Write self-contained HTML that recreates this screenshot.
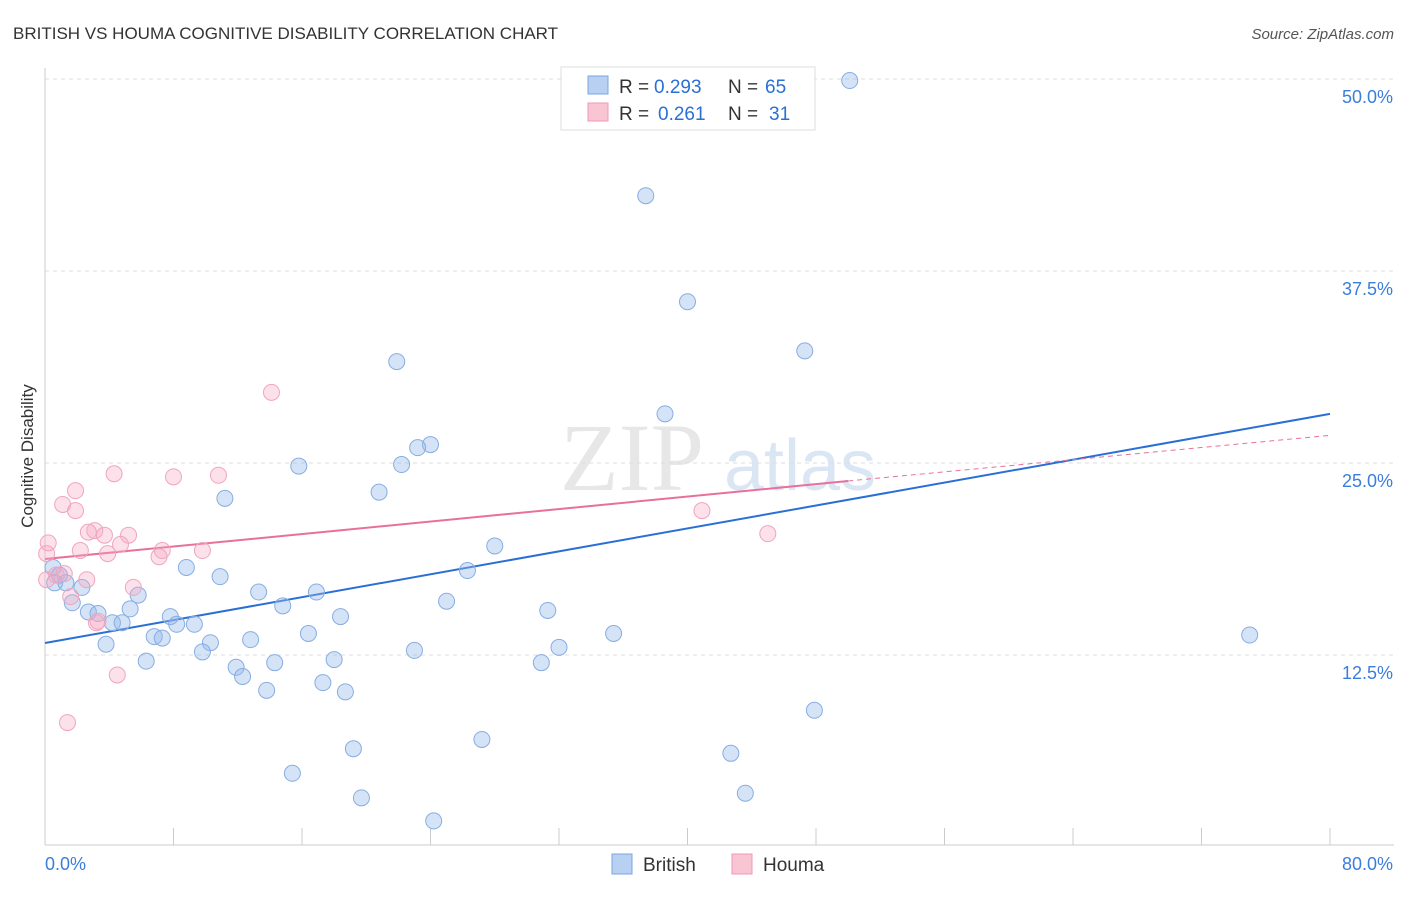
<!DOCTYPE html>
<html><head><meta charset="utf-8"><style>
body{margin:0;background:#fff;font-family:"Liberation Sans",sans-serif}
svg text{font-family:"Liberation Sans",sans-serif}
</style></head><body>
<svg id="c" width="1406" height="892">
<text x="13" y="39" font-size="17" fill="#333">BRITISH VS HOUMA COGNITIVE DISABILITY CORRELATION CHART</text>
<text x="1394" y="39" font-size="15" fill="#555" text-anchor="end" font-style="italic">Source: ZipAtlas.com</text>
<text x="33" y="456" font-size="17" fill="#333" text-anchor="middle" transform="rotate(-90 33 456)">Cognitive Disability</text>
<g opacity="0.35">
<text x="632" y="490" font-size="96" fill="#bbb" text-anchor="middle" style="font-family:'Liberation Serif',serif">ZIP</text>
<text x="800" y="490" font-size="72" fill="#9bb8e0" text-anchor="middle">atlas</text>
</g>
<g id="grid"></g><g id="axes"></g><g id="lines"></g><g id="pts"></g>
<g>
<rect x="561" y="67" width="254" height="63" fill="#fff" stroke="#ddd"/>
<rect x="588" y="76" width="20" height="18" fill="#b8d0f2" stroke="#7aa6e0"/>
<rect x="588" y="103" width="20" height="18" fill="#f9c4d4" stroke="#ef9ab5"/>
<text x="619" y="93" font-size="19" fill="#333">R =</text>
<text x="654" y="93" font-size="19" fill="#2a6fd6">0.293</text>
<text x="728" y="93" font-size="19" fill="#333">N =</text>
<text x="765" y="93" font-size="19" fill="#2a6fd6">65</text>
<text x="619" y="120" font-size="19" fill="#333">R =</text>
<text x="658" y="120" font-size="19" fill="#2a6fd6">0.261</text>
<text x="728" y="120" font-size="19" fill="#333">N =</text>
<text x="769" y="120" font-size="19" fill="#2a6fd6">31</text>
</g>
<g>
<rect x="612" y="854" width="20" height="20" fill="#b8d0f2" stroke="#7aa6e0"/>
<text x="643" y="871" font-size="19" fill="#333">British</text>
<rect x="732" y="854" width="20" height="20" fill="#f9c4d4" stroke="#ef9ab5"/>
<text x="763" y="871" font-size="19" fill="#333">Houma</text>
</g>
</svg>
<script>
const yTicks=[12.5,25.0,37.5,50.0];
const yTickLabels=["12.5%","25.0%","37.5%","50.0%"];
const xEndLabels=["0.0%","80.0%"];
const britishX=[50.1,37.4,40.0,47.3,21.9,38.6,24.0,23.2,22.2,15.8,20.8,11.2,28.0,8.8,26.3,10.9,0.5,0.9,0.6,1.3,2.3,5.8,13.3,16.9,1.7,14.8,25.0,5.3,2.7,3.3,31.3,7.8,18.4,4.2,4.8,8.2,9.3,16.4,35.4,75.0,6.8,7.3,10.3,12.8,3.8,32.0,23.0,9.8,6.3,18.0,30.9,11.9,14.3,12.3,17.3,13.8,18.7,47.9,27.2,19.2,42.7,15.4,43.6,19.7,24.2];
const britishY=[49.9,42.4,35.5,32.3,31.6,28.2,26.2,26.0,24.9,24.8,23.1,22.7,19.6,18.2,18.0,17.6,18.2,17.7,17.2,17.2,16.9,16.4,16.6,16.6,15.9,15.7,16.0,15.5,15.3,15.2,15.4,15.0,15.0,14.6,14.6,14.5,14.5,13.9,13.9,13.8,13.7,13.6,13.3,13.5,13.2,13.0,12.8,12.7,12.1,12.2,12.0,11.7,12.0,11.1,10.7,10.2,10.1,8.9,7.0,6.4,6.1,4.8,3.5,3.2,1.7];
const houmaX=[14.1,4.3,8.0,10.8,1.9,1.1,1.9,3.1,2.7,3.7,5.2,0.2,4.7,2.2,3.9,7.3,9.8,7.1,0.1,40.9,45.0,0.7,1.2,2.6,5.5,1.6,3.3,3.2,4.5,1.4,0.1];
const houmaY=[29.6,24.3,24.1,24.2,23.2,22.3,21.9,20.6,20.5,20.3,20.3,19.8,19.7,19.3,19.1,19.3,19.3,18.9,19.1,21.9,20.4,17.7,17.8,17.4,16.9,16.3,14.7,14.6,11.2,8.1,17.4];
const britishTrend=[13.28,28.2];
const houmaTrend=[18.75,23.83,26.8];
const houmaTrendSolidEnd=50;
const X0=45,X1=1330,Y0=847,PXY=15.36;
const sx=v=>X0+v*(X1-X0)/80, sy=v=>Y0-v*PXY;
const NS="http://www.w3.org/2000/svg";
function mk(t,a,p){const e=document.createElementNS(NS,t);for(const k in a)e.setAttribute(k,a[k]);p.appendChild(e);return e;}
const grid=document.getElementById('grid'),axes=document.getElementById('axes'),lines=document.getElementById('lines'),pts=document.getElementById('pts');
yTicks.forEach((t,i)=>{
 const l=mk('line',{x1:X0,x2:1394,y1:sy(t),y2:sy(t),stroke:'#ddd','stroke-dasharray':'4,4'},grid);
 
 
 const tx=mk('text',{x:1393,y:sy(t)+24,'font-size':18,fill:'#3b7ddd','text-anchor':'end'},grid);
 tx.textContent=yTickLabels[i];
 
 
});
const ax=mk('line',{x1:X0,x2:X0,y1:68,y2:845,stroke:'#ccc'},axes);


const bx=mk('line',{x1:X0,x2:1394,y1:845,y2:845,stroke:'#ccc'},axes);


for(let v=0;v<=80;v+=8){
 const t=mk('line',{x1:sx(v),x2:sx(v),y1:828,y2:845,stroke:'#ccc'},axes);
 
 
}
[[0,'start',xEndLabels[0]],[80,'end',xEndLabels[1]]].forEach(([v,a,s])=>{
 const t=mk('text',{x:v==0?sx(v):1393,y:870,'font-size':18,fill:'#3b7ddd','text-anchor':a},axes);
 t.textContent=s;
 
 
});
britishX.forEach((x,i)=>{
 const c=mk('circle',{cx:sx(x),cy:sy(britishY[i]),r:8,fill:'rgba(150,185,235,0.4)',stroke:'#86ade3','stroke-width':1},pts);
 
 
});
houmaX.forEach((x,i)=>{
 const c=mk('circle',{cx:sx(x),cy:sy(houmaY[i]),r:8,fill:'rgba(245,170,195,0.35)',stroke:'#f0a5bd','stroke-width':1},pts);
 
 
});
const bl=mk('line',{x1:sx(0),y1:sy(britishTrend[0]),x2:sx(80),y2:sy(britishTrend[1]),stroke:'#2a6fd6','stroke-width':2},lines);


const hl=mk('line',{x1:sx(0),y1:sy(houmaTrend[0]),x2:sx(houmaTrendSolidEnd),y2:sy(houmaTrend[1]),stroke:'#e8709a','stroke-width':2},lines);


const hd=mk('line',{x1:sx(houmaTrendSolidEnd),y1:sy(houmaTrend[1]),x2:sx(80),y2:sy(houmaTrend[2]),stroke:'#e8709a','stroke-width':1,'stroke-dasharray':'5,4'},lines);


</script>
</body></html>
